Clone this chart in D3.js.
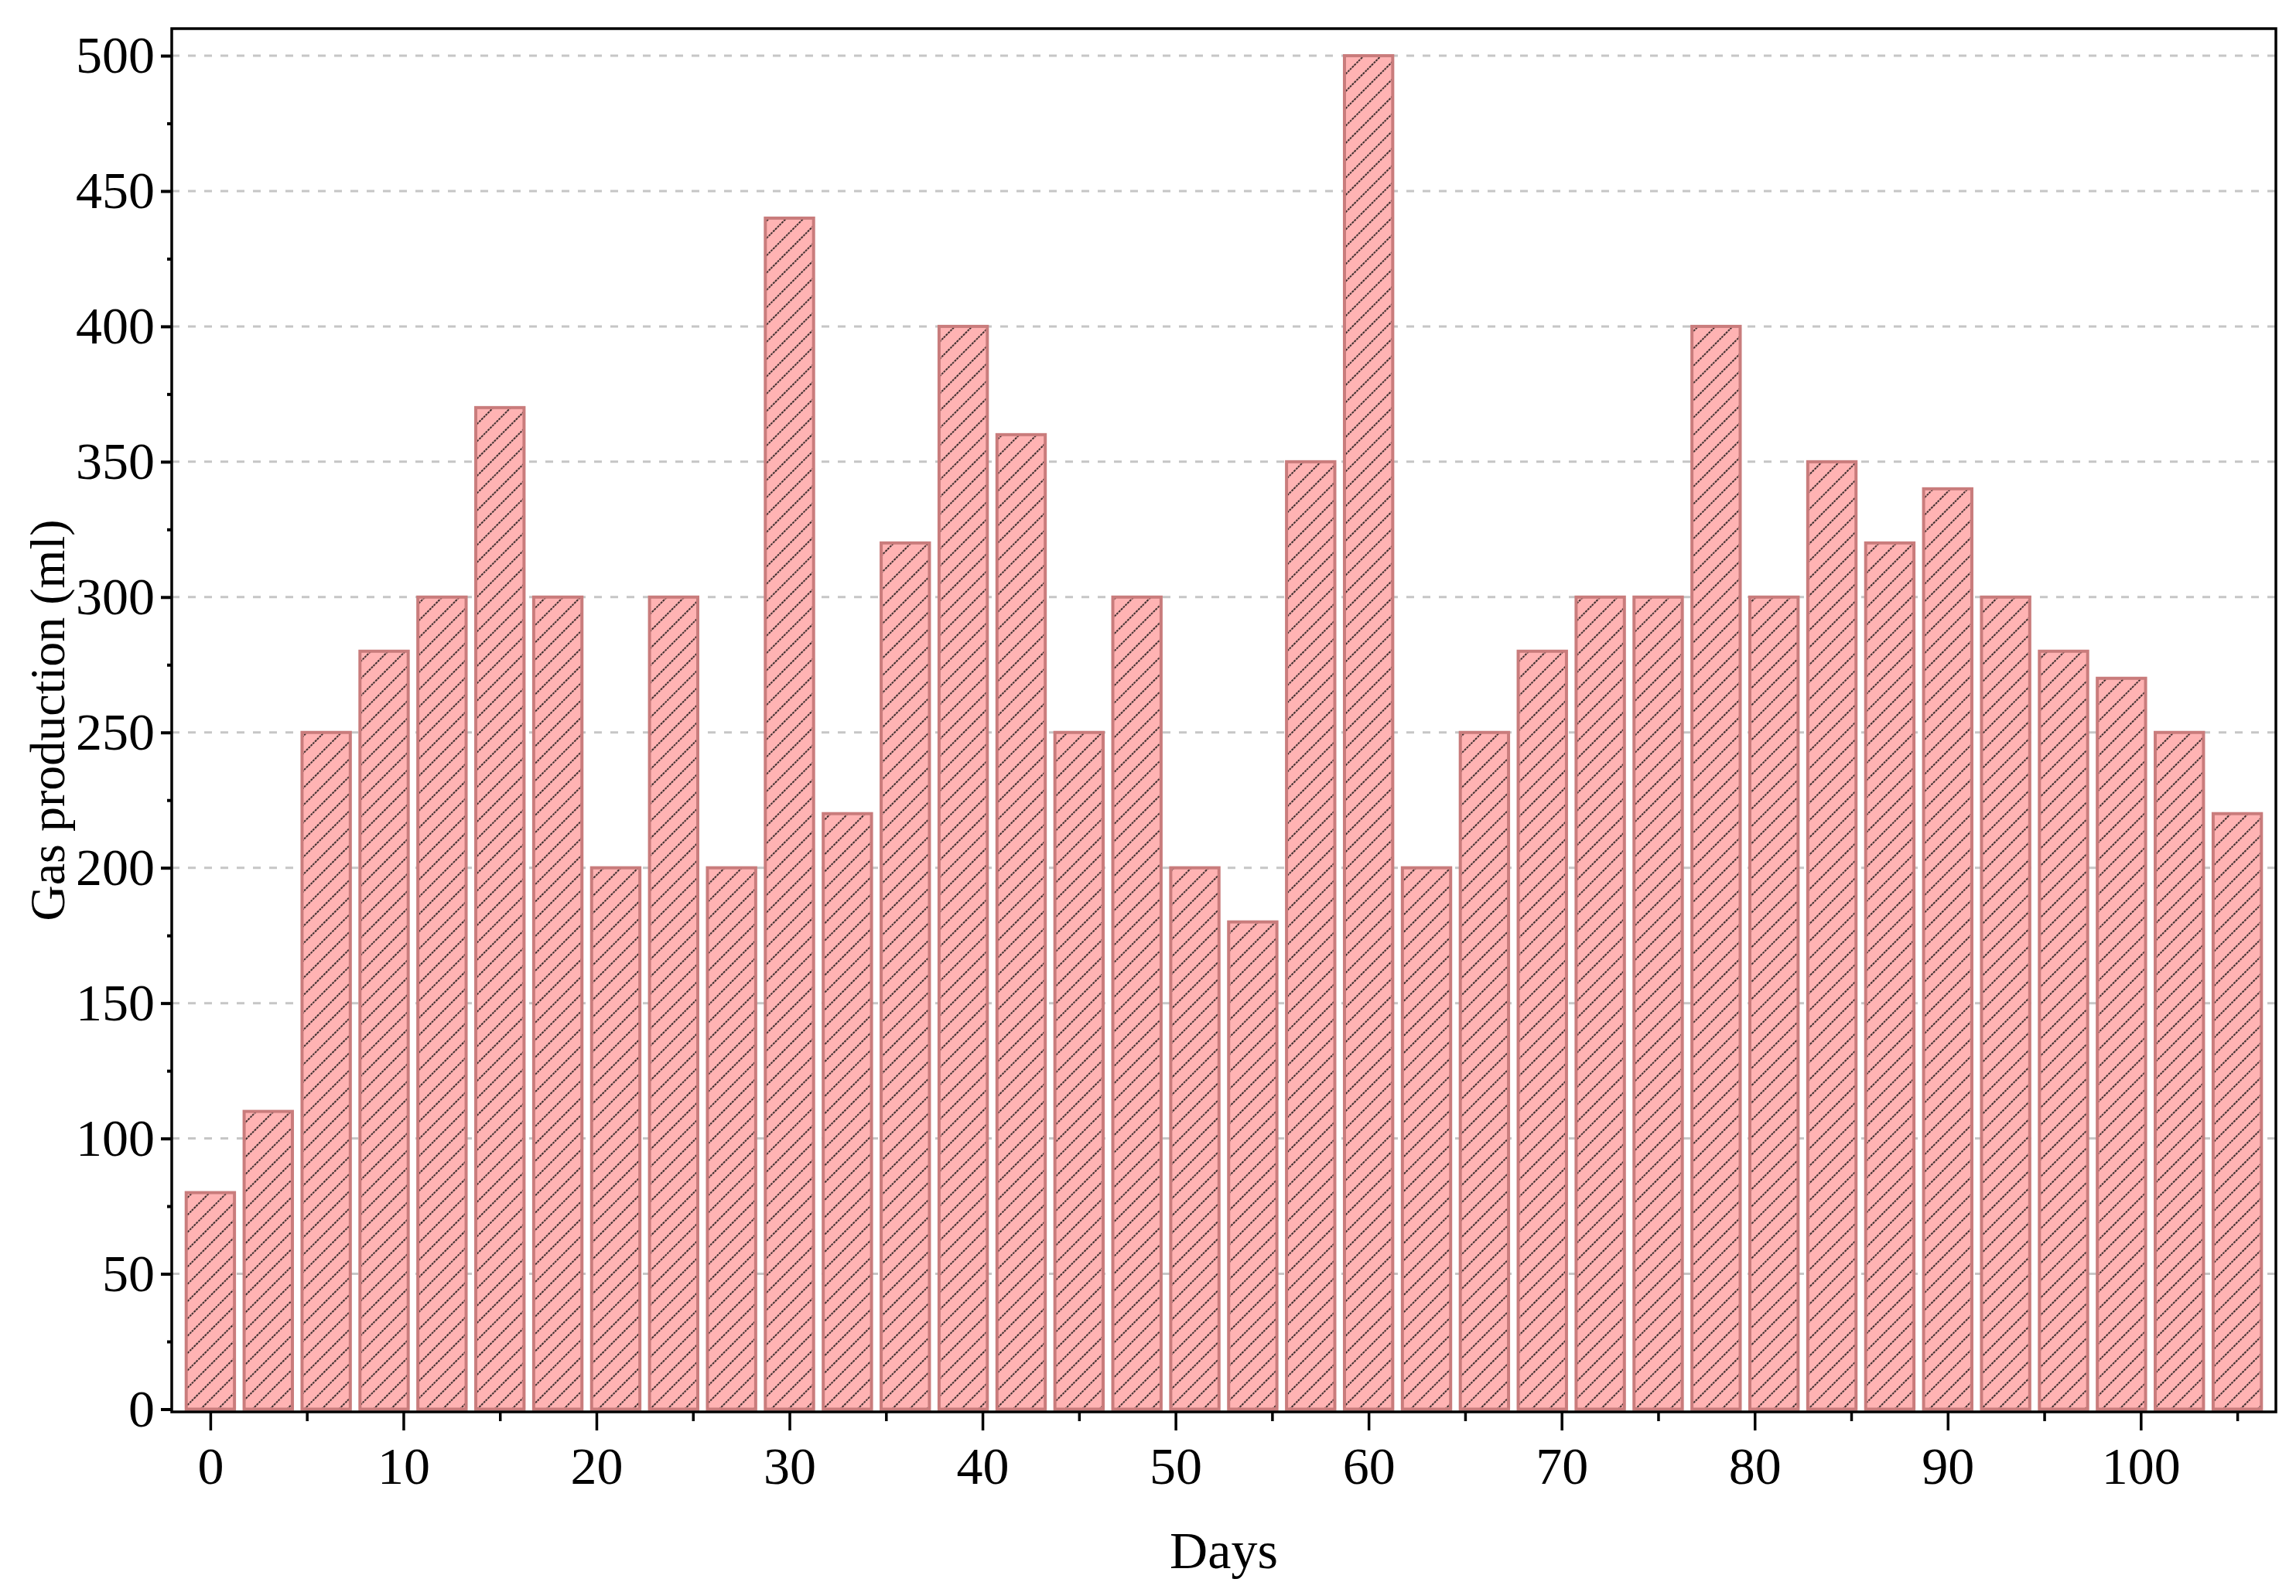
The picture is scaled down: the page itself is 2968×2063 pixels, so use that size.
<!DOCTYPE html>
<html>
<head>
<meta charset="utf-8">
<script src="https://cdn.jsdelivr.net/npm/d3@7"></script>
<style>
  html, body { margin: 0; padding: 0; background: #ffffff; }
  svg { display: block; }
</style>
</head>
<body>
<script>
// ---------------- data ----------------
const days = [0, 3, 6, 9, 12, 15, 18, 21, 24, 27, 30, 33, 36, 39, 42, 45, 48, 51,
              54, 57, 60, 63, 66, 69, 72, 75, 78, 81, 84, 87, 90, 93, 96, 99, 102, 105];
const gasProduction = [80, 110, 250, 280, 300, 370, 300, 200, 300, 200, 440, 220, 320, 400, 360, 250, 300, 200,
                       180, 350, 500, 200, 250, 280, 300, 300, 400, 300, 350, 320, 340, 300, 280, 270, 250, 220];
const xMajorTicks = [0, 10, 20, 30, 40, 50, 60, 70, 80, 90, 100];
const xMinorTicks = [5, 15, 25, 35, 45, 55, 65, 75, 85, 95, 105];
const yMajorTicks = [0, 50, 100, 150, 200, 250, 300, 350, 400, 450, 500];
const yMinorTicks = [25, 75, 125, 175, 225, 275, 325, 375, 425, 475];
const xTitle = "Days";
const yTitle = "Gas production (ml)";

// ---------------- layout ----------------
const W = 2968, H = 2063;
const pLeft = 222, pRight = 2942, pTop = 37, pBottom = 1825;
const fontFamily = "'Liberation Serif', 'Times New Roman', serif";
const fontSize = 68;

const svg = d3.select("body").append("svg")
  .attr("width", W).attr("height", H)
  .attr("viewBox", `0 0 ${W} ${H}`);

const x = d3.scaleLinear().domain([-2, 107]).range([pLeft, pRight]);
const y = d3.scaleLinear().domain([-1, 510]).range([pBottom, pTop]);

// hatch pattern
const defs = svg.append("defs");
const pat = defs.append("pattern")
  .attr("id", "hatch")
  .attr("patternUnits", "userSpaceOnUse")
  .attr("width", 15.8).attr("height", 15.8)
  .attr("patternTransform", "rotate(45)");
pat.append("rect").attr("width", 15.8).attr("height", 15.8).attr("fill", "#ffb3b3");
pat.append("line")
  .attr("x1", 2).attr("y1", 0).attr("x2", 2).attr("y2", 15.8)
  .attr("stroke", "#3a2c2c").attr("stroke-width", 2)
  .attr("stroke-dasharray", "2.8,1.2");

// grid lines
svg.append("g")
  .selectAll("line")
  .data(yMajorTicks.filter(d => d > 0))
  .join("line")
  .attr("x1", pLeft).attr("x2", pRight)
  .attr("y1", d => y(d)).attr("y2", d => y(d))
  .attr("stroke", "#c6c6c6")
  .attr("stroke-width", 3)
  .attr("stroke-dasharray", "10,11");

// bars
const barW = x(2.5) - x(0);
svg.append("g")
  .selectAll("rect")
  .data(days.map((d, i) => ({ day: d, v: gasProduction[i] })))
  .join("rect")
  .attr("x", d => x(d.day) - barW / 2)
  .attr("width", barW)
  .attr("y", d => y(d.v))
  .attr("height", d => y(0) - y(d.v))
  .attr("fill", "url(#hatch)")
  .attr("stroke", "#c97c7c")
  .attr("stroke-width", 4);

// frame
svg.append("rect")
  .attr("x", pLeft).attr("y", pTop)
  .attr("width", pRight - pLeft).attr("height", pBottom - pTop)
  .attr("fill", "none")
  .attr("stroke", "#000")
  .attr("stroke-width", 3.5);

// y axis
const yAxis = svg.append("g")
  .attr("transform", `translate(${pLeft},0)`)
  .call(d3.axisLeft(y).tickValues(yMajorTicks).tickSize(14).tickPadding(8).tickFormat(d3.format("d")));
yAxis.select(".domain").remove();
yAxis.selectAll(".tick line").attr("stroke", "#000").attr("stroke-width", 4);
yAxis.selectAll(".tick text")
  .attr("font-family", fontFamily).attr("font-size", fontSize).attr("fill", "#000");

const yMinor = svg.append("g")
  .attr("transform", `translate(${pLeft},0)`)
  .call(d3.axisLeft(y).tickValues(yMinorTicks).tickSize(6).tickFormat(""));
yMinor.select(".domain").remove();
yMinor.selectAll(".tick line").attr("stroke", "#000").attr("stroke-width", 4);

// x axis
const xAxis = svg.append("g")
  .attr("transform", `translate(0,${pBottom})`)
  .call(d3.axisBottom(x).tickValues(xMajorTicks).tickSize(24).tickFormat(d3.format("d")));
xAxis.select(".domain").remove();
xAxis.selectAll(".tick line").attr("stroke", "#000").attr("stroke-width", 3.5);
xAxis.selectAll(".tick text")
  .attr("y", 93).attr("dy", 0)
  .attr("font-family", fontFamily).attr("font-size", fontSize).attr("fill", "#000");

const xMinor = svg.append("g")
  .attr("transform", `translate(0,${pBottom})`)
  .call(d3.axisBottom(x).tickValues(xMinorTicks).tickSize(12).tickFormat(""));
xMinor.select(".domain").remove();
xMinor.selectAll(".tick line").attr("stroke", "#000").attr("stroke-width", 3.5);

// titles
svg.append("text")
  .attr("x", (pLeft + pRight) / 2).attr("y", 2027)
  .attr("text-anchor", "middle")
  .attr("font-family", fontFamily).attr("font-size", fontSize).attr("fill", "#000")
  .text(xTitle);

svg.append("text")
  .attr("transform", `translate(83,${(pTop + pBottom) / 2}) rotate(-90)`)
  .attr("text-anchor", "middle")
  .attr("font-family", fontFamily).attr("font-size", 64).attr("fill", "#000")
  .text(yTitle);
</script>
</body>
</html>
